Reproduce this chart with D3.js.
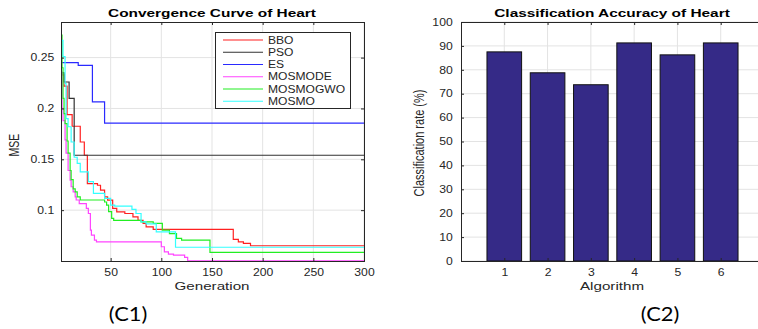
<!DOCTYPE html>
<html>
<head>
<meta charset="utf-8">
<script src="https://cdn.jsdelivr.net/npm/d3@7"></script>
<style>
  body { margin: 0; background: #fff; }
  svg { display: block; font-family: "Liberation Sans", Arial, sans-serif; }
</style>
</head>
<body>
<svg id="chart" width="758" height="329"></svg>
<script>
// convergence curves, step points as [generation, mse]
const bbo = [[1,0.233],[4,0.222],[7,0.194],[12,0.1825],[20,0.167],[24,0.154],[27,0.126],[37,0.1245],[40,0.1196],[44,0.113],[47,0.1098],[52,0.1017],[56,0.0984],[64,0.0967],[72,0.0934],[77,0.090],[82,0.0869],[85,0.0836],[92,0.081],[171,0.0712],[176,0.0689],[181,0.0673],[188,0.065]];
const pso = [[1,0.235],[4,0.226],[9,0.21],[14,0.154]];
const es = [[1,0.245],[18,0.2424],[32,0.2064],[44,0.1855]];
const mosmode = [[1,0.236],[2,0.2],[3,0.188],[5,0.169],[6,0.156],[8,0.139],[10,0.1295],[11,0.123],[13,0.118],[15,0.113],[16,0.11],[19,0.1065],[26,0.1017],[28,0.0967],[30,0.0804],[31,0.0754],[34,0.0705],[36,0.0689],[100,0.064],[103,0.059],[107,0.0568],[112,0.0558],[123,0.0535],[126,0.0502]];
const mosmogwo = [[1,0.272],[2,0.24],[3,0.21],[4,0.195],[5,0.185],[7,0.168],[8,0.156],[10,0.139],[11,0.13],[13,0.121],[15,0.118],[17,0.113],[20,0.11],[44,0.108],[46,0.105],[48,0.0985],[51,0.092],[53,0.09],[80,0.0885],[92,0.087],[101,0.0804],[108,0.077],[115,0.0722],[120,0.0705],[148,0.0585]];
const mosmo = [[1,0.267],[3,0.251],[5,0.2245],[6,0.19],[8,0.182],[11,0.167],[14,0.152],[17,0.146],[20,0.1376],[28,0.128],[33,0.1164],[44,0.1115],[50,0.105],[54,0.104],[71,0.1007],[75,0.0967],[80,0.0885],[85,0.0865],[95,0.0787],[114,0.0635]];

const seriesNames = ["BBO", "PSO", "ES", "MOSMODE", "MOSMOGWO", "MOSMO"];
const seriesColors = ["#ff2020", "#333333", "#2a2aff", "#ff44ff", "#22ee22", "#33ffff"];
const genTicks = [50, 100, 150, 200, 250, 300];
const mseTicks = [0.1, 0.15, 0.2, 0.25];

// classification accuracy
const algorithms = [1, 2, 3, 4, 5, 6];
const accuracy = [87.5, 78.75, 73.75, 91.25, 86.25, 91.25];
const accTicks = [0, 10, 20, 30, 40, 50, 60, 70, 80, 90, 100];

const svg = d3.select("#chart");
const axisColor = "#262626";
const gridColor = "#e3e3e3";

// the source figure is stretched sideways, so text gets a horizontal scale
function label(x, y, str, size, sx, opts = {}) {
  return svg.append("text")
    .attr("transform", `translate(${x},${y}) scale(${sx},1)` + (opts.rotate ? " rotate(-90)" : ""))
    .attr("text-anchor", "middle")
    .attr("font-size", size)
    .attr("font-weight", opts.bold ? "bold" : null)
    .attr("font-family", opts.family || null)
    .attr("fill", opts.fill || axisColor)
    .text(str);
}

function drawFrame(x, y, xTicks, yTicks, fmtY, padY) {
  const [x0, x1] = x.range();
  const [y0, y1] = y.range();
  const g = svg.append("g");

  g.append("g").selectAll("line").data(xTicks).join("line")
    .attr("x1", d => x(d)).attr("x2", d => x(d))
    .attr("y1", y0).attr("y2", y1)
    .attr("stroke", gridColor);
  g.append("g").selectAll("line").data(yTicks).join("line")
    .attr("x1", x0).attr("x2", x1)
    .attr("y1", d => y(d)).attr("y2", d => y(d))
    .attr("stroke", gridColor);
  return g;
}

function drawAxes(x, y, xTicks, yTicks, padY) {
  const [x0, x1] = x.range();
  const [y0, y1] = y.range();
  const g = svg.append("g");

  const bottom = g.append("g").attr("transform", `translate(0,${y0})`)
    .call(d3.axisBottom(x).tickValues(xTicks).tickSizeInner(-3).tickSizeOuter(0).tickPadding(8).tickFormat(d => d));
  const left = g.append("g").attr("transform", `translate(${x0},0)`)
    .call(d3.axisLeft(y).tickValues(yTicks).tickSizeInner(-3).tickSizeOuter(0).tickPadding(padY).tickFormat(d => d));
  g.append("g").attr("transform", `translate(0,${y1})`)
    .call(d3.axisTop(x).tickValues(xTicks).tickSizeInner(-3).tickSizeOuter(0).tickFormat(""));
  g.append("g").attr("transform", `translate(${x1},0)`)
    .call(d3.axisRight(y).tickValues(yTicks).tickSizeInner(-3).tickSizeOuter(0).tickFormat(""));

  g.selectAll(".domain").remove();
  g.selectAll(".tick line").attr("stroke", axisColor);
  [bottom, left].forEach(a => a.selectAll("text")
    .attr("font-size", 10)
    .attr("font-family", "Liberation Sans, Arial, sans-serif")
    .attr("fill", axisColor)
    .attr("transform", "scale(1.22,1)"));

  g.append("rect")
    .attr("x", x0 + 0.5).attr("y", y1 + 0.5)
    .attr("width", x1 - x0).attr("height", y0 - y1)
    .attr("fill", "none").attr("stroke", axisColor);
}

// ---- C1: convergence curves ----
const xGen = d3.scaleLinear().domain([1, 300]).range([61, 364]);
const yMse = d3.scaleLinear().domain([0.05, 0.285]).range([261, 22]);

drawFrame(xGen, yMse, genTicks, mseTicks);

svg.append("clipPath").attr("id", "clip1")
  .append("rect").attr("x", 61).attr("y", 22).attr("width", 303).attr("height", 239);

const line = d3.line()
  .x(d => xGen(d[0]))
  .y(d => yMse(d[1]))
  .curve(d3.curveStepAfter);

const series = [bbo, pso, es, mosmode, mosmogwo, mosmo];
svg.append("g").attr("clip-path", "url(#clip1)")
  .selectAll("path").data(series).join("path")
  .attr("d", d => line(d.concat([[300, d[d.length - 1][1]]])))
  .attr("fill", "none")
  .attr("stroke", (d, i) => seriesColors[i])
  .attr("stroke-width", 1.2);

drawAxes(xGen, yMse, genTicks, mseTicks, 5.5);

// legend
const legend = svg.append("g");
legend.append("rect")
  .attr("x", 215.5).attr("y", 32.5).attr("width", 135).attr("height", 76)
  .attr("fill", "#fff").attr("stroke", axisColor);
const rows = legend.selectAll("g.row").data(seriesNames).join("g")
  .attr("class", "row")
  .attr("transform", (d, i) => `translate(0,${40 + i * 12.25})`);
rows.append("line")
  .attr("x1", 223).attr("x2", 263)
  .attr("stroke", (d, i) => seriesColors[i]).attr("stroke-width", 1.2);
rows.append("text")
  .attr("transform", "translate(268,0) scale(1.21,1)")
  .attr("dy", "0.36em")
  .attr("font-size", 10)
  .attr("fill", axisColor)
  .text(d => d);

label(212, 17, "Convergence Curve of Heart", 11, 1.4, { bold: true, fill: "#000" });
label(212, 290, "Generation", 11, 1.38);
label(19, 145, "MSE", 10.5, 1.35, { rotate: true });

// ---- C2: classification accuracy ----
const xAlg = d3.scaleLinear().domain([0, 7]).range([461, 764]);
const yAcc = d3.scaleLinear().domain([0, 100]).range([261, 22]);
const barW = 0.8 * (xAlg(1) - xAlg(0));

drawFrame(xAlg, yAcc, algorithms, accTicks);

svg.append("g").selectAll("rect").data(algorithms).join("rect")
  .attr("x", d => xAlg(d) - barW / 2)
  .attr("y", (d, i) => yAcc(accuracy[i]))
  .attr("width", barW)
  .attr("height", (d, i) => yAcc(0) - yAcc(accuracy[i]))
  .attr("fill", "#352a87")
  .attr("stroke", "#111")
  .attr("stroke-width", 1);

drawAxes(xAlg, yAcc, algorithms, accTicks, 6.8);

label(612, 17, "Classification Accuracy of Heart", 11, 1.4, { bold: true, fill: "#000" });
label(612, 290, "Algorithm", 11, 1.38);
label(424, 143, "Classification rate (%)", 11, 1.3, { rotate: true });

// panel captions
label(128, 321, "(C1)", 19, 1.15, { family: "Lato, sans-serif", fill: "#000" });
label(660, 321, "(C2)", 19, 1.15, { family: "Lato, sans-serif", fill: "#000" });
</script>
</body>
</html>
